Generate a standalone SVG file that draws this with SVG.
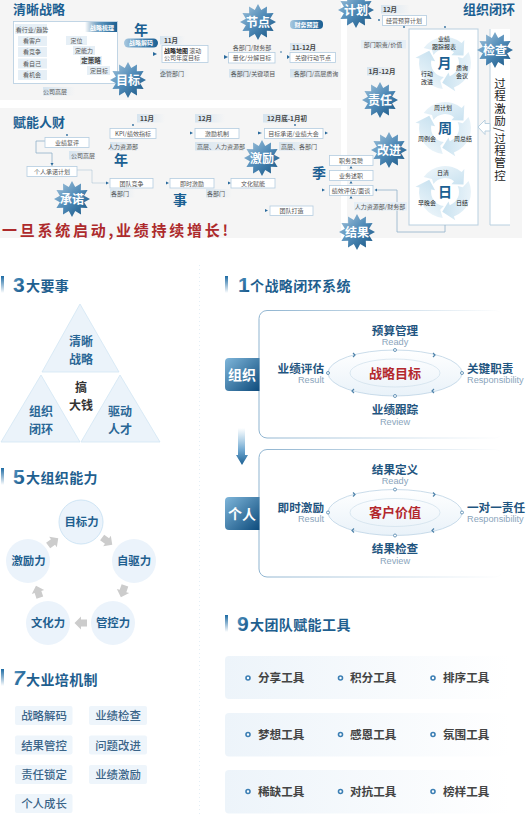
<svg xmlns="http://www.w3.org/2000/svg" width="529" height="815" viewBox="0 0 529 815">
<style>
text{font-family:"Noto Sans CJK SC","Liberation Sans",sans-serif}
.h{font-size:13px;font-weight:700;fill:#1b5f92}
.s{font-size:12px;font-weight:700;fill:#fff;text-anchor:middle}
.t{font-size:6px;fill:#555;text-anchor:middle}
.tl{font-size:6px;fill:#555}
.td{font-size:6px;fill:#222;text-anchor:middle}
.m{font-size:6.5px;font-weight:700;fill:#444;text-anchor:middle}
.y{font-size:14px;font-weight:700;fill:#1b5f92;text-anchor:middle}
.v{font-size:11.5px;fill:#222;writing-mode:vertical-rl;letter-spacing:.8px}
.pw{font-size:6px;font-weight:700;fill:#fff;text-anchor:middle}
.box{fill:#fff;stroke:#b4cde0;stroke-width:.8}
.lb{fill:#e6eff6}
.lbg{fill:url(#fade)}
.con{fill:none;stroke:#8fb0c9;stroke-width:.8}
.dot{fill:#2a6a9c}
.bar{fill:url(#bar)}
.num{font-size:21px;font-weight:700;fill:url(#numg);font-family:"Liberation Sans",sans-serif}
.sh{font-size:14px;font-weight:700;fill:#1f5f8f;letter-spacing:.4px}
.tri{fill:#ebf3fa;stroke:#d2e6f4;stroke-width:.8}
.tt{font-size:12px;font-weight:700;fill:#2a6796;text-anchor:middle}
.cir{fill:#ebf3fb}
.ct{font-size:11.4px;font-weight:700;fill:#1f5f8f;text-anchor:middle}
.gar{fill:#cccccc}
.tag{fill:#eef5fb}
.tg{font-size:11.4px;fill:#3a6488;text-anchor:middle;font-weight:500}
.pan{fill:#fff;stroke:url(#panS);stroke-width:1}
.n{font-size:11.6px;font-weight:700;fill:#1f5580}
.e{font-size:9.2px;fill:#8aa5bc;font-family:"Liberation Sans",sans-serif}
.red{font-size:13px;font-weight:700;fill:#b3282d;text-anchor:middle}
.row{fill:url(#rowg)}
.tool{font-size:11.6px;font-weight:700;fill:#444}
.bul{fill:#fff;stroke:#3c7fb4;stroke-width:1.6}
</style>
<defs>
<linearGradient id="sg" x1="0" y1="0" x2="1" y2="1"><stop offset="0" stop-color="#a9c8de"/><stop offset=".5" stop-color="#4f8ab7"/><stop offset="1" stop-color="#11507f"/></linearGradient>
<linearGradient id="fade"><stop offset="0" stop-color="#d6e4ef"/><stop offset="1" stop-color="#d6e4ef" stop-opacity="0"/></linearGradient>
<linearGradient id="pill"><stop offset="0" stop-color="#a9c9e0"/><stop offset=".5" stop-color="#4f8ab7"/><stop offset="1" stop-color="#1b5f92"/></linearGradient>
<linearGradient id="bar" x1="0" y1="0" x2="0" y2="1"><stop offset="0" stop-color="#1c6aa3"/><stop offset="1" stop-color="#1c6aa3" stop-opacity="0"/></linearGradient>
<linearGradient id="numg" x1="0" y1="0" x2="1" y2="1"><stop offset="0" stop-color="#5b9dca"/><stop offset="1" stop-color="#0d4b7c"/></linearGradient>
<linearGradient id="org" x1="0" y1="0" x2="1" y2="1"><stop offset="0" stop-color="#7fb6da"/><stop offset="1" stop-color="#0d4b7c"/></linearGradient>
<linearGradient id="panS"><stop offset="0" stop-color="#8fb4d0"/><stop offset="1" stop-color="#8fb4d0" stop-opacity="0"/></linearGradient>
<linearGradient id="rowg"><stop offset="0" stop-color="#edf4fa"/><stop offset="1" stop-color="#edf4fa" stop-opacity="0"/></linearGradient>
<linearGradient id="ell" x1="0" y1="0" x2="0" y2="1"><stop offset="0" stop-color="#fff"/><stop offset="1" stop-color="#e9f2f9"/></linearGradient>
<linearGradient id="cyc" x1="0" y1="0" x2="1" y2="1"><stop offset="0" stop-color="#f0f7fb"/><stop offset="1" stop-color="#c9e2f0"/></linearGradient>
<linearGradient id="darrow" x1="0" y1="0" x2="0" y2="1"><stop offset="0" stop-color="#7fb6da" stop-opacity="0"/><stop offset=".6" stop-color="#6ea7d0"/><stop offset="1" stop-color="#1b5f92"/></linearGradient>
<linearGradient id="hd" x1="0" y1="0" x2="1" y2="0"><stop offset="0" stop-color="#1b5f92" stop-opacity="0"/><stop offset=".5" stop-color="#5a93bc"/><stop offset="1" stop-color="#1b5f92"/></linearGradient>
<linearGradient id="dash"><stop offset="0" stop-color="#7fb0d6" stop-opacity=".2"/><stop offset=".5" stop-color="#3f86bf"/><stop offset="1" stop-color="#7fb0d6" stop-opacity=".2"/></linearGradient>
<polygon id="star" fill="url(#sg)" points="0,-18 3.2,-12.1 9,-15.6 8.8,-8.8 15.6,-9 12.1,-3.2 18,0 12.1,3.2 15.6,9 8.8,8.8 9,15.6 3.2,12.1 0,18 -3.2,12.1 -9,15.6 -8.8,8.8 -15.6,9 -12.1,3.2 -18,0 -12.1,-3.2 -15.6,-9 -8.8,-8.8 -9,-15.6 -3.2,-12.1"/>
<path id="seg" fill="url(#cyc)" d="M-21.3,-14.9A26,26 0 0 1 16.7,-19.9L19.3,-23L18.5,-7.5L6.4,-7.7L9,-10.7A14,14 0 0 0 -11.5,-8L-13,-13Z"/>
<g id="cycle"><use href="#seg"/><use href="#seg" transform="rotate(120)"/><use href="#seg" transform="rotate(240)"/></g>
<polygon id="ga" class="gar" points="-6,-3.5 0,-3.5 0,-6.5 6.5,0 0,6.5 0,3.5 -6,3.5"/>
<g id="loop">
<ellipse cx="0" cy="0" rx="67" ry="23" fill="url(#ell)" stroke="#bcd3e4" stroke-width=".8"/>
<ellipse cx="0" cy="0" rx="45" ry="14" fill="none" stroke="#cfdfeb" stroke-width=".7"/>
<g fill="#fff" stroke="#5f8fb3" stroke-width=".9"><circle cx="0" cy="-23" r="1.5"/><circle cx="0" cy="23" r="1.5"/><circle cx="-67" cy="0" r="1.5"/><circle cx="67" cy="0" r="1.5"/></g>
<g fill="none" stroke="#4f83aa" stroke-width="1.2"><path d="M-42,-20l2,2l-2,2"/><path d="M38,-20l2,2l-2,2"/><path d="M39,16l-2,2l2,2"/><path d="M-41,16l-2,2l2,2"/></g>
</g>
</defs>

<rect width="529" height="815" fill="#fff"/>
<g id="panels">
<rect x="0" y="0" width="341" height="100" fill="#f5f5f5"/>
<rect x="0" y="108" width="341" height="130" fill="#f5f5f5"/>
<rect x="347" y="0" width="175" height="238" fill="#f5f5f5"/>
<rect x="409" y="29" width="69" height="196" fill="#fff" stroke="#b9d0e0"/>
<path d="M510,29H490V225H510V29" fill="#fff"/>
<path d="M490,29V225H510" fill="none" stroke="#b9d0e0"/>
<polygon points="478,127 485,120 485,123.500 490,123.500 490,131 485,131 485,134.500" fill="#fff" stroke="#b9d0e0"/>
</g>

<g id="connectors">
<path class="con" d="M59,50H64V62H75"/><polygon class="dot" points="74,60 78,62 74,64"/>
<path class="con" d="M50,47V80"/>
<path class="con" d="M45,141H36V153H52V163"/><polygon class="dot" points="50.500,163 53.500,163 52,166"/>
<path class="con" d="M77,170H92V183H106" stroke-opacity=".5"/>
<path class="con" d="M445,225V232H397V190H377"/><polygon class="dot" points="377,188.500 377,191.500 374.500,190"/>
<g class="dot">
<polygon points="153,52 157,54 153,56"/><polygon points="224,55 228,57 224,59"/><polygon points="287,55 290,57 287,59"/>
<circle cx="281" cy="52" r=".8"/><circle cx="379" cy="20" r=".9"/><circle cx="404" cy="27" r=".9"/><circle cx="445" cy="27" r=".9"/>
<circle cx="67" cy="135" r=".9"/><circle cx="133" cy="125" r=".9"/>
<polygon points="106,181.500 109,183 106,184.500"/><polygon points="166,181.500 169,183 166,184.500"/><polygon points="228,181.500 231,183 228,184.500"/><polygon points="265,209 268,210.500 265,212"/>
<polygon points="190,131.500 193,133 190,134.500"/><polygon points="258,131.500 262,133 258,134.500"/><polygon points="325,131.500 328,133 325,134.500"/><circle cx="295" cy="125" r=".9"/>
<polygon points="322,188.500 325,190 322,191.500"/>
<polygon points="349.500,168.500 351,166 352.500,168.500"/><polygon points="349.500,183.500 351,181 352.500,183.500"/>
<polygon points="349.500,198.500 351,196 352.500,198.500"/>
</g>
</g>

<g id="title-strategy"><text class="h" x="13" y="14">清晰战略</text></g>
<g id="title-empower"><text class="h" x="13" y="127">赋能人财</text></g>
<g id="title-org"><text class="h" x="463" y="14">组织闭环</text></g>

<g id="sorting">
<rect x="13.500" y="21.500" width="104" height="62" class="box"/>
<rect x="85" y="22" width="32" height="10" fill="url(#hd)"/>
<text class="pw" x="102" y="29.500">战略梳理</text>
<g class="lb"><rect x="15" y="24" width="32" height="10"/><rect x="18" y="36" width="29" height="10"/><rect x="18" y="47" width="29" height="10"/><rect x="18" y="58.500" width="29" height="10"/><rect x="18" y="70" width="29" height="10"/></g>
<text class="t" x="32" y="31.500">看行业/趋势</text><text class="t" x="32" y="43">看客户</text><text class="t" x="32" y="54">看竞争</text><text class="t" x="32" y="65.500">看自己</text><text class="t" x="32" y="77">看机会</text>
<g class="lb"><rect x="66" y="36" width="21" height="9"/><rect x="73" y="46" width="22" height="9"/><rect x="80" y="56" width="22" height="9"/><rect x="87" y="66" width="23" height="9"/></g>
<text class="t" x="76.500" y="43">定位</text><text class="t" x="84" y="53">定能力</text><text class="m" x="91" y="63">定策略</text><text class="t" x="99" y="73">定目标</text>
<rect x="43" y="87" width="32" height="8.500" class="lbg"/><text class="t" x="55" y="93.500">公司高层</text>
</g>
<g id="decode">
<text class="y" x="141" y="35">年</text>
<rect x="124" y="38.500" width="34" height="9" rx="4.500" fill="url(#pill)"/><text class="pw" x="141" y="45">战略解码</text>
<rect x="160" y="36" width="25" height="8.500" class="lbg"/><text class="m" x="171" y="42.500">11月</text>
<rect x="162" y="45.500" width="46" height="17" class="box"/>
<text class="tl" x="164" y="52.500"><tspan font-weight="700" fill="#222">战略地图</tspan> 滚动</text><text class="tl" x="164" y="60">公司年度目标</text>
<rect x="160" y="69" width="30" height="8.500" class="lbg"/><text class="t" x="172" y="75.500">企管部门</text>
</g>
<g id="quantify">
<text class="t" x="252" y="50">各部门/财务部</text>
<rect x="228.500" y="52.500" width="46.500" height="10.500" class="box"/><text class="t" x="252" y="60">量化/分解目标</text>
<rect x="229" y="69" width="48" height="8.500" class="lbg"/><text class="t" x="253" y="75.500">各部门/关键项目</text>
</g>
<g id="budget">
<rect x="290" y="20" width="33" height="9" rx="4" fill="url(#pill)"/><text class="pw" x="306.500" y="26.500">财务预算</text>
<rect x="290" y="43" width="30" height="8" class="lbg"/><text class="m" x="304" y="49.500">11-12月</text>
<rect x="290" y="52.500" width="45.500" height="10" class="box"/><text class="t" x="313" y="60">关键行动节点</text>
<rect x="290" y="69" width="53" height="8.500" class="lbg"/><text class="t" x="316" y="75.500">各部门/高层质询</text>
</g>
<g id="plan">
<rect x="381" y="5" width="29" height="8.500" class="lbg"/><text class="m" x="390" y="11.500">12月</text>
<rect x="382.500" y="15.500" width="44" height="10" class="box"/><text class="t" x="404" y="22.500">经营预算计划</text>
<rect x="361" y="40" width="45" height="8.500" class="lb"/><text class="t" x="383" y="46.500">部门职责/价值</text>
<rect x="367" y="67" width="31" height="8.500" class="lbg"/><text class="m" x="382" y="73.500">1月-12月</text>
</g>
<g id="cycle-month">
<use href="#cycle" x="445" y="63"/>
<text class="td" x="444" y="40.500">业绩</text><text class="td" x="444" y="48.500">跟踪报表</text>
<text class="y" x="444.500" y="68">月</text>
<text class="td" x="462" y="70">质询</text><text class="td" x="462" y="78">会议</text>
<text class="td" x="427" y="76">行动</text><text class="td" x="427" y="84">改进</text>
</g>
<g id="cycle-week">
<use href="#cycle" x="445" y="128"/>
<text class="td" x="443" y="109.500">周计划</text>
<text class="y" x="445" y="133">周</text>
<text class="td" x="427" y="140.500">周例会</text><text class="td" x="463" y="140.500">周总结</text>
</g>
<g id="cycle-day">
<use href="#cycle" x="445" y="192"/>
<text class="td" x="443" y="174.500">日清</text>
<text class="y" x="445" y="197">日</text>
<text class="td" x="427" y="204.500">早晚会</text><text class="td" x="462" y="204.500">日结</text>
</g>
<g id="process"><text class="v" x="500" y="78">过程激励/过程管控</text></g>

<g id="review">
<rect x="329.500" y="155.500" width="43.500" height="10" class="box"/><text class="t" x="351" y="162.500">职务竞聘</text>
<rect x="329.500" y="170.500" width="43.500" height="10" class="box"/><text class="t" x="351" y="177.500">业务述职</text>
<rect x="329.500" y="185.500" width="43.500" height="10" class="box"/><text class="t" x="351" y="192.500">绩效评估/面谈</text>
<rect x="354" y="202" width="53" height="8.500" class="lb"/><text class="t" x="380" y="208.500">人力资源部/财务部</text>
<text class="y" x="319" y="178">季</text>
</g>
<g id="commit">
<rect x="45" y="137.500" width="44" height="10" class="box"/><text class="t" x="67" y="144.500">业绩复评</text>
<rect x="69" y="151" width="28" height="8.500" class="lbg"/><text class="t" x="83" y="157.500">公司高层</text>
<rect x="27" y="166.500" width="50" height="10" class="box"/><text class="t" x="52" y="173.500">个人承诺计划</text>
</g>
<g id="team">
<rect x="110" y="178.500" width="43" height="9.500" class="box"/><text class="t" x="131.500" y="185.500">团队竞争</text>
<rect x="110" y="189" width="25" height="8.500" class="lbg"/><text class="t" x="120" y="195.500">各部门</text>
<rect x="170" y="178.500" width="44" height="9.500" class="box"/><text class="t" x="192" y="185.500">即时激励</text>
<rect x="231" y="178.500" width="44" height="9.500" class="box"/><text class="t" x="253" y="185.500">文化赋能</text>
<rect x="206" y="189" width="26" height="8.500" class="lbg"/><text class="t" x="216" y="195.500">各部门</text>
<rect x="270" y="206" width="43" height="9.500" class="box"/><text class="t" x="291.500" y="213">团队打造</text>
<text class="y" x="180" y="205">事</text>
</g>
<g id="kpi">
<rect x="137" y="114" width="28" height="8.500" class="lbg"/><text class="m" x="147" y="120.500">11月</text>
<rect x="110" y="128.500" width="46" height="10" class="box"/><text class="t" x="133" y="135.500">KPI/绩效指标</text>
<rect x="110" y="142" width="30" height="8.500" class="lbg"/><text class="t" x="123" y="148.500">人力资源部</text>
<text class="y" x="121" y="165">年</text>
</g>
<g id="incentive">
<rect x="195" y="114" width="30" height="8.500" class="lbg"/><text class="m" x="205" y="120.500">12月</text>
<rect x="195" y="128.500" width="44" height="10" class="box"/><text class="t" x="217" y="135.500">激励机制</text>
<rect x="195" y="142" width="53" height="8.500" class="lbg"/><text class="t" x="221" y="148.500">高层、人力资源部</text>
</g>
<g id="meeting">
<rect x="263" y="114" width="47" height="8.500" class="lbg"/><text class="m" x="287" y="120.500">12月底-1月初</text>
<rect x="264.500" y="128.500" width="58.500" height="10" class="box"/><text class="t" x="293.500" y="135.500">目标承诺/业绩大会</text>
<rect x="279" y="142" width="41" height="8.500" class="lbg"/><text class="t" x="299" y="148.500">高层、各部门</text>
</g>

<g id="star-goal"><use href="#star" x="128" y="80"/><text class="s" x="128" y="84.500">目标</text></g>
<g id="star-node"><use href="#star" x="258" y="22"/><text class="s" x="258" y="26.500">节点</text></g>
<g id="star-plan"><use href="#star" x="356" y="10"/><text class="s" x="356" y="14.500">计划</text></g>
<g id="star-resp"><use href="#star" x="380" y="100"/><text class="s" x="380" y="104.500">责任</text></g>
<g id="star-check"><use href="#star" x="495" y="50"/><text class="s" x="495" y="54.500">检查</text></g>
<g id="star-improve"><use href="#star" x="389" y="150"/><text class="s" x="389" y="154.500">改进</text></g>
<g id="star-result"><use href="#star" x="357" y="232"/><text class="s" x="357" y="236.500">结果</text></g>
<g id="star-reward"><use href="#star" x="262" y="158"/><text class="s" x="262" y="162.500">激励</text></g>
<g id="star-promise"><use href="#star" x="72" y="199"/><text class="s" x="72" y="203.500">承诺</text></g>

<g id="slogan"><text x="2" y="236" font-size="15" font-weight="700" fill="#ad2a2c" textLength="226" lengthAdjust="spacing">一旦系统启动,业绩持续增长!</text></g>

<g id="dividers" fill="none" stroke="url(#dash)" stroke-width="1" stroke-dasharray="1 2">
<path d="M0,457.500H160"/><path d="M0,658.500H160"/>
</g>
<g id="divider-v"><path d="M199.500,265V815" stroke="#e3eef6" stroke-width="1" stroke-dasharray="1 3"/></g>

<g id="head-3"><rect class="bar" x="1" y="276" width="3" height="17"/><text class="num" x="13" y="292">3</text><text class="sh" x="26" y="291">大要事</text></g>
<g id="triangle-top"><polygon class="tri" points="80,304 119,372 42,372"/><text class="tt"><tspan x="81" y="346">清晰</tspan><tspan x="81" y="363.500">战略</tspan></text></g>
<g id="triangle-left"><polygon class="tri" points="41,375 80,442 1,442"/><text class="tt"><tspan x="41" y="416">组织</tspan><tspan x="41" y="433.500">闭环</tspan></text></g>
<g id="triangle-right"><polygon class="tri" points="120,375 160,442 81,442"/><text class="tt"><tspan x="120" y="416">驱动</tspan><tspan x="120" y="433.500">人才</tspan></text></g>
<g id="center-money"><text class="tt" style="fill:#333"><tspan x="81" y="392">搞</tspan><tspan x="81" y="409.500">大钱</tspan></text></g>

<g id="head-5"><rect class="bar" x="1" y="468" width="3" height="17"/><text class="num" x="13" y="484">5</text><text class="sh" x="26" y="483">大组织能力</text></g>
<g id="cap-goal"><circle class="cir" cx="81" cy="522" r="22" stroke="#cfe5f5"/><text class="ct" x="81.500" y="526">目标力</text></g>
<g id="cap-drive"><circle class="cir" cx="134" cy="561" r="22"/><text class="ct" x="134" y="565">自驱力</text></g>
<g id="cap-control"><circle class="cir" cx="113" cy="623" r="22"/><text class="ct" x="113" y="627">管控力</text></g>
<g id="cap-culture"><circle class="cir" cx="48" cy="623" r="22"/><text class="ct" x="48" y="627">文化力</text></g>
<g id="cap-reward"><circle class="cir" cx="28" cy="561" r="22"/><text class="ct" x="28.500" y="565">激励力</text></g>
<g id="cap-arrows">
<use href="#ga" transform="translate(107 541) rotate(36)"/><use href="#ga" transform="translate(123 591) rotate(109)"/><use href="#ga" transform="translate(81 623) rotate(180)"/><use href="#ga" transform="translate(38 592) rotate(252)"/><use href="#ga" transform="translate(53 542) rotate(-36)"/>
</g>

<g id="head-7"><rect class="bar" x="1" y="669" width="3" height="17"/><text class="num" x="13" y="685" font-style="italic">7</text><text class="sh" x="26" y="685">大业培机制</text></g>
<g id="tag-1"><rect class="tag" x="15" y="706" width="57.500" height="19" rx="2"/><text class="tg" x="44" y="720">战略解码</text></g>
<g id="tag-2"><rect class="tag" x="89" y="706" width="58" height="19" rx="2"/><text class="tg" x="118" y="720">业绩检查</text></g>
<g id="tag-3"><rect class="tag" x="15" y="735.500" width="57.500" height="19" rx="2"/><text class="tg" x="44" y="749.500">结果管控</text></g>
<g id="tag-4"><rect class="tag" x="89" y="735.500" width="58" height="19" rx="2"/><text class="tg" x="118" y="749.500">问题改进</text></g>
<g id="tag-5"><rect class="tag" x="15" y="765" width="57.500" height="19" rx="2"/><text class="tg" x="44" y="779">责任锁定</text></g>
<g id="tag-6"><rect class="tag" x="89" y="765" width="58" height="19" rx="2"/><text class="tg" x="118" y="779">业绩激励</text></g>
<g id="tag-7"><rect class="tag" x="15" y="794" width="57.500" height="19" rx="2"/><text class="tg" x="44" y="808">个人成长</text></g>

<g id="head-1"><rect class="bar" x="225" y="276" width="3" height="17"/><text class="num" x="238" y="292">1</text><text class="sh" x="250" y="291">个战略闭环系统</text></g>
<g id="org-panel">
<rect class="pan" x="259" y="310.500" width="244" height="127.500" rx="8"/>
<path d="M229,358H259.500V391H229a4,4 0 0 1 -4,-4V362a4,4 0 0 1 4,-4Z" fill="url(#org)"/>
<text x="242" y="380" font-size="14" font-weight="700" fill="#fff" text-anchor="middle">组织</text>
<use href="#loop" x="395" y="373"/>
<text class="red" x="395" y="378">战略目标</text>
<text class="n" x="395" y="335" text-anchor="middle">预算管理</text><text class="e" x="395" y="345" text-anchor="middle">Ready</text>
<text class="n" x="324" y="373" text-anchor="end">业绩评估</text><text class="e" x="324" y="383" text-anchor="end">Result</text>
<text class="n" x="467" y="373">关键职责</text><text class="e" x="467" y="383">Responsibility</text>
<text class="n" x="395" y="414" text-anchor="middle">业绩跟踪</text><text class="e" x="395" y="425" text-anchor="middle">Review</text>
</g>
<g id="down-arrow"><polygon points="238,428 245,428 245,455 248,455 242,465 236,455 238,455" fill="url(#darrow)"/></g>
<g id="person-panel">
<rect class="pan" x="259" y="449.500" width="244" height="127.500" rx="8"/>
<path d="M229,497H259.500V530H229a4,4 0 0 1 -4,-4V501a4,4 0 0 1 4,-4Z" fill="url(#org)"/>
<text x="242" y="519" font-size="14" font-weight="700" fill="#fff" text-anchor="middle">个人</text>
<use href="#loop" x="395" y="512.500"/>
<text class="red" x="395" y="517">客户价值</text>
<text class="n" x="395" y="474" text-anchor="middle">结果定义</text><text class="e" x="395" y="484" text-anchor="middle">Ready</text>
<text class="n" x="324" y="512" text-anchor="end">即时激励</text><text class="e" x="324" y="522" text-anchor="end">Result</text>
<text class="n" x="467" y="512">一对一责任</text><text class="e" x="467" y="522">Responsibility</text>
<text class="n" x="395" y="553" text-anchor="middle">结果检查</text><text class="e" x="395" y="564" text-anchor="middle">Review</text>
</g>

<g id="head-9"><rect class="bar" x="225" y="615" width="3" height="17"/><text class="num" x="237" y="631">9</text><text class="sh" x="250" y="630">大团队赋能工具</text></g>
<g id="tools-1"><rect class="row" x="225" y="656" width="285" height="43" rx="4"/>
<circle class="bul" cx="248" cy="678" r="2"/><text class="tool" x="258" y="682">分享工具</text><circle class="bul" cx="340.500" cy="678" r="2"/><text class="tool" x="350" y="682">积分工具</text><circle class="bul" cx="433" cy="678" r="2"/><text class="tool" x="443" y="682">排序工具</text></g>
<g id="tools-2"><rect class="row" x="225" y="713" width="285" height="43.500" rx="4"/>
<circle class="bul" cx="248" cy="734.500" r="2"/><text class="tool" x="258" y="739">梦想工具</text><circle class="bul" cx="340.500" cy="734.500" r="2"/><text class="tool" x="350" y="739">感恩工具</text><circle class="bul" cx="433" cy="734.500" r="2"/><text class="tool" x="443" y="739">氛围工具</text></g>
<g id="tools-3"><rect class="row" x="225" y="770" width="285" height="43.500" rx="4"/>
<circle class="bul" cx="248" cy="791.500" r="2"/><text class="tool" x="258" y="796">稀缺工具</text><circle class="bul" cx="340.500" cy="791.500" r="2"/><text class="tool" x="350" y="796">对抗工具</text><circle class="bul" cx="433" cy="791.500" r="2"/><text class="tool" x="443" y="796">榜样工具</text></g>
</svg>
